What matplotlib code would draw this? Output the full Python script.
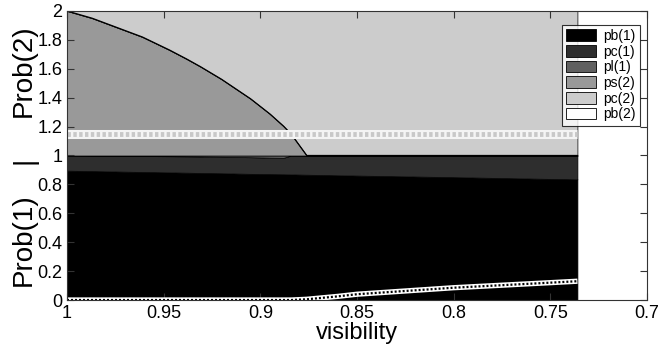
import matplotlib
matplotlib.use("Agg")
import matplotlib.pyplot as plt
import numpy as np

plt.rcParams['font.family'] = ['Liberation Sans', 'DejaVu Sans']

# visibility grid (x values, decreasing)
vis = np.array([1.0, 0.987, 0.961, 0.947, 0.938, 0.931, 0.92, 0.905, 0.895,
                0.888, 0.884, 0.876, 0.86, 0.85, 0.8, 0.75, 0.736])
# Prob(1) components
pb1 = np.array([0.895, 0.892, 0.886, 0.883, 0.881, 0.879, 0.877, 0.873, 0.871,
                0.870, 0.869, 0.867, 0.863, 0.861, 0.850, 0.838, 0.835])
pl1 = np.array([0.0, 0.002, 0.004, 0.005, 0.006, 0.007, 0.009, 0.012, 0.015,
                0.016, 0.0, 0.0, 0.0, 0.0, 0.0, 0.0, 0.0])
pc1 = 1.0 - pb1 - pl1
# Prob(2) components
ps2 = np.array([1.0, 0.95, 0.82, 0.73, 0.667, 0.615, 0.527, 0.392, 0.287,
                0.203, 0.147, 0.0, 0.0, 0.0, 0.0, 0.0, 0.0])
pb2 = np.zeros_like(vis)
pc2 = 1.0 - ps2 - pb2
# marker-like overlay lines
low_line = np.array([0, 0, 0, 0, 0, 0, 0, 0, 0, 0, 0, 0.005, 0.025, 0.04,
                     0.085, 0.12, 0.13])
band_level = 1.146

labels = ['pb(1)', 'pc(1)', 'pl(1)', 'ps(2)', 'pc(2)', 'pb(2)']
colors = ['#000000', '#2e2e2e', '#606060', '#999999', '#cccccc', '#ffffff']
xticks = [1, 0.95, 0.9, 0.85, 0.8, 0.75, 0.7]
xticklabels = ['1', '0.95', '0.9', '0.85', '0.8', '0.75', '0.7']
yticks = [0, 0.2, 0.4, 0.6, 0.8, 1, 1.2, 1.4, 1.6, 1.8, 2]
yticklabels = ['0', '0.2', '0.4', '0.6', '0.8', '1', '1.2', '1.4', '1.6', '1.8', '2']

fig = plt.figure(figsize=(6.7, 3.49), dpi=100)
ax = fig.add_axes([0.1, 0.1404, 0.8657, 0.8281])

polys = ax.stackplot(vis, pb1, pc1, pl1, ps2, pc2, pb2, colors=colors,
                     labels=labels, edgecolor='black', linewidth=0.5)
# black outline of the ps(2) curve and the 1.0 boundary
ax.plot(vis, 1 + ps2, color='black', lw=0.9)

# band of circles near 1.15
ax.plot([vis[0], vis[-1]], [band_level, band_level], color='#f4f4f4', lw=6.5,
        solid_capstyle='butt')
ax.plot([vis[0], vis[-1]], [band_level, band_level], color='#c8c8c8', lw=3.5,
        dashes=(0.7, 0.5), solid_capstyle='butt')
# zigzag line near the bottom
ax.plot(vis, low_line, color='white', lw=3.8, solid_capstyle='butt')
ax.plot(vis, low_line, color='black', lw=1.6, dashes=(0.9, 0.9))

ax.set_xlim(1, 0.7)
ax.set_ylim(0, 2)
ax.set_xticks(xticks)
ax.set_xticklabels(xticklabels)
ax.set_yticks(yticks)
ax.set_yticklabels(yticklabels)
ax.tick_params(direction='in', length=5, labelsize=13, top=True, right=True,
               width=0.8, color='#333333')
for s in ax.spines.values():
    s.set_linewidth(0.8)
    s.set_color('#333333')

ax.set_xlabel('visibility', fontsize=17, labelpad=0)
# y label made of three pieces: Prob(1) | Prob(2)
ylab_x = 24 / 670
fig.text(ylab_x, 1 - 71 / 349, 'Prob(2)', rotation=90, fontsize=20,
         ha='center', va='center')
fig.text(ylab_x, 1 - 160 / 349, '|', rotation=90, fontsize=20,
         ha='center', va='center')
fig.text(ylab_x, 1 - 240 / 349, 'Prob(1)', rotation=90, fontsize=20,
         ha='center', va='center')

leg = ax.legend(loc='upper right', bbox_to_anchor=(0.988, 0.952), fontsize=10,
                frameon=True, fancybox=False, edgecolor='black',
                handlelength=2.2, handleheight=0.9, handletextpad=0.5,
                labelspacing=0.12, borderpad=0.3, borderaxespad=0)
leg.get_frame().set_linewidth(0.8)
for h in leg.legend_handles:
    h.set_edgecolor('black')
    h.set_linewidth(0.6)

fig.savefig('out.png', dpi=100)
